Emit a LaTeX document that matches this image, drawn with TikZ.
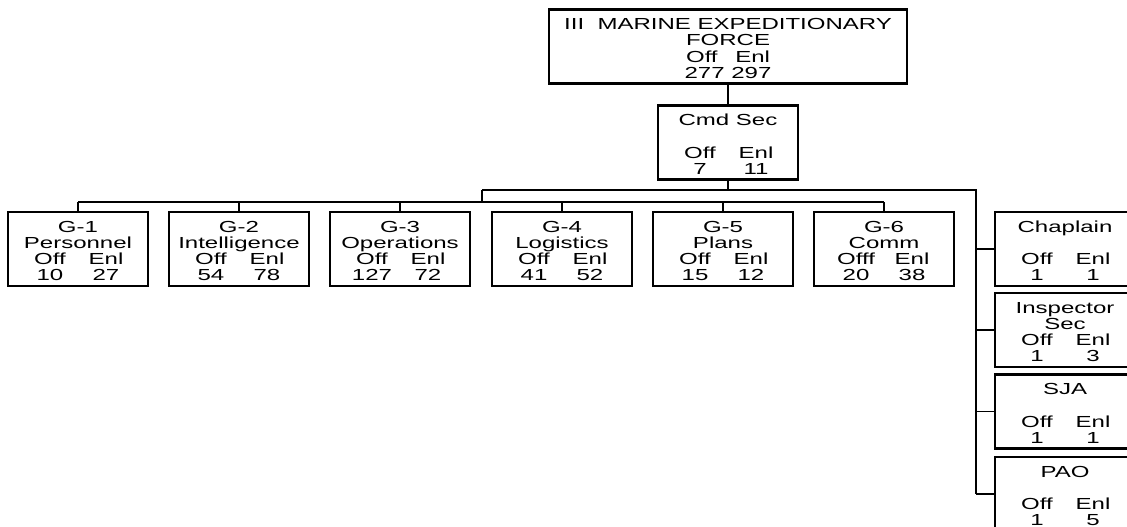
\documentclass[tikz,border=0pt]{standalone}
\usepackage{fontspec}
\setmainfont{Liberation Sans}[FakeStretch=1.5]
\usetikzlibrary{positioning}
\newcommand{\offenl}[3][Off]{\makebox[42pt]{#1}\makebox[42pt]{Enl}\\\makebox[42pt]{#2}\makebox[42pt]{#3}}

\begin{document}
\begin{tikzpicture}[
  x=0.75pt, y=-0.75pt,
  font=\fontsize{12}{12.2}\selectfont,
  unit/.style={draw, line width=1.6pt, align=center, inner sep=0pt, minimum width=105.5pt, minimum height=55.5pt,
    text height=48pt},
  link/.style={line width=1.25pt},
]
\useasboundingbox (0,0) rectangle (1127,527);
\clip (0,0) rectangle (1127,527);
% headquarters
\node[unit, minimum width=268.5pt] (mef) at (728,46.5)
  {III~~MARINE EXPEDITIONARY\\FORCE\\Off\hspace{1.1em}Enl\\277 297};
\node[unit] (cmd) at (728,142.5) {Cmd Sec\\\mbox{}\\\offenl{7}{11}};
% general staff
\node[unit] (g1) at (78,249) {G-1\\Personnel\\\offenl{10}{27}};
\node[unit] (g2) at (239,249) {G-2\\Intelligence\\\offenl{54}{78}};
\node[unit] (g3) at (400,249) {G-3\\Operations\\\offenl{127}{72}};
\node[unit] (g4) at (562,249) {G-4\\Logistics\\\offenl{41}{52}};
\node[unit] (g5) at (723,249) {G-5\\Plans\\\offenl{15}{12}};
\node[unit] (g6) at (884,249) {G-6\\Comm\\\offenl[Offf]{20}{38}};
% special staff
\node[unit] (chap) at (1065,249) {Chaplain\\\mbox{}\\\offenl{1}{1}};
\node[unit] (insp) at (1065,330) {Inspector\\Sec\\\offenl{1}{3}};
\node[unit] (sja) at (1065,411.5) {SJA\\\mbox{}\\\offenl{1}{1}};
\node[unit] (pao) at (1065,494) {PAO\\\mbox{}\\\offenl{1}{5}};
% lines
\coordinate (split) at (482,190);
\coordinate (trunk) at (976,190);
\coordinate (gbus) at (482,202);
\draw[link] (cmd.north) -- (cmd.north |- mef.south);
\draw[link] (cmd.south) -- (cmd.south |- trunk);
\draw[link] (split) -- (trunk) -- (trunk |- pao.west);
\draw[link] (split) -- (gbus);
\draw[link] (g1.north |- gbus) -- (g6.north |- gbus);
\foreach \s in {g1,g2,g3,g4,g5,g6} \draw[link] (\s.north) -- (\s.north |- gbus);
\foreach \s in {chap,insp,sja,pao} \draw[link] (\s.west) -- (\s.west -| trunk);
\end{tikzpicture}
\end{document}
